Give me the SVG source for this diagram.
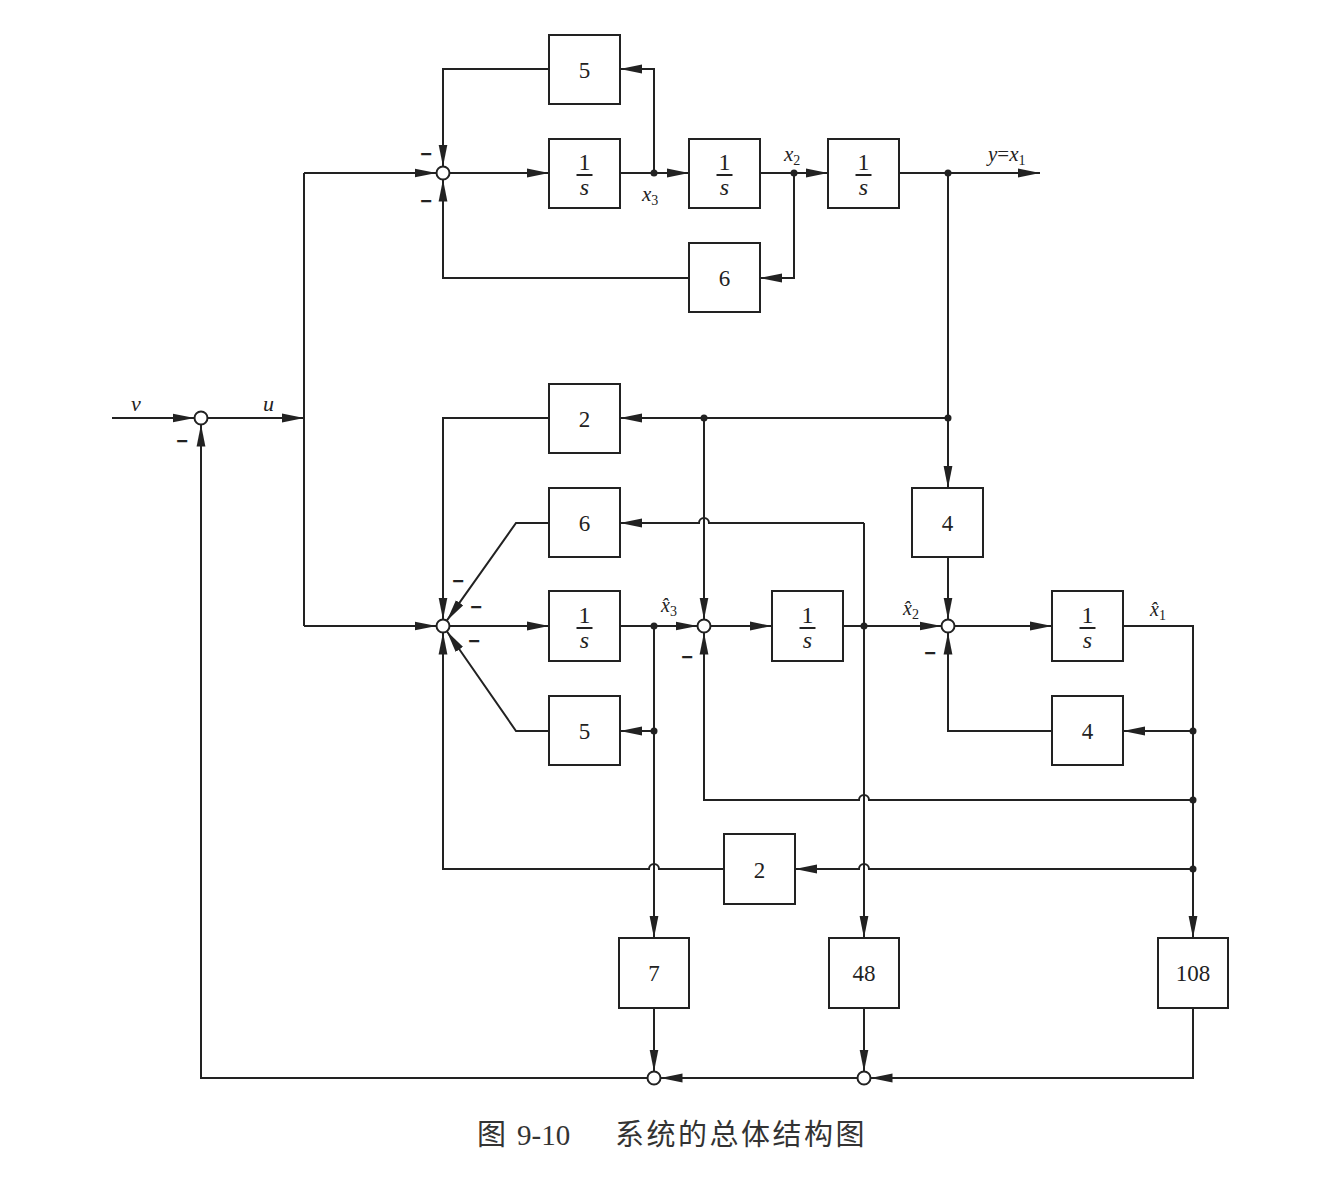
<svg xmlns="http://www.w3.org/2000/svg" width="1320" height="1180" viewBox="0 0 1320 1180">
  <style>
    .box { fill: #fff; stroke: #222; stroke-width: 2; }
    .w { fill: none; stroke: #222; stroke-width: 2; }
    .a { marker-end: url(#ah); }
    .sum { fill: #fff; stroke: #222; stroke-width: 2; }
    .dot { fill: #222; }
    .num { font-family: "Liberation Serif", serif; font-size: 23px; fill: #222; text-anchor: middle; }
    .frac { font-family: "Liberation Serif", serif; font-size: 24px; fill: #222; text-anchor: middle; }
    .it { font-family: "Liberation Serif", serif; font-style: italic; fill: #222; }
    .minus { font-family: "Liberation Sans", sans-serif; font-size: 20px; font-weight: bold; fill: #222; text-anchor: middle; }
    .cap { font-family: "Liberation Serif", "Noto Sans CJK SC", serif; font-size: 29px; fill: #333; }
  </style>
  <defs>
    <marker id="ah" markerUnits="userSpaceOnUse" markerWidth="24" markerHeight="10" refX="22" refY="5" orient="auto">
      <path d="M0,0.6 L22,5 L0,9.4 z" fill="#222"/>
    </marker>
  </defs>
  <rect width="1320" height="1180" fill="#fff"/>

  <!-- connectors -->
  <g id="connectors">
    <!-- outer loop input -->
    <path class="w a" d="M112,418 L194.5,418"/>
    <path class="w a" d="M207.5,418 L304,418"/>
    <path class="w" d="M304,173 L304,626"/>
    <path class="w a" d="M304,173 L436.5,173"/>
    <path class="w a" d="M304,626 L436.5,626"/>

    <!-- plant -->
    <path class="w a" d="M449.5,173 L549,173"/>
    <path class="w a" d="M620,173 L689,173"/>
    <path class="w a" d="M654,173 L654,69 L620,69"/>
    <path class="w a" d="M549,69 L443,69 L443,166.5"/>
    <path class="w a" d="M760,173 L828,173"/>
    <path class="w a" d="M794,173 L794,278 L760,278"/>
    <path class="w a" d="M689,278 L443,278 L443,179.5"/>
    <path class="w a" d="M899,173 L1040,173"/>

    <!-- output feed to observer -->
    <path class="w a" d="M948,173 L948,488"/>
    <path class="w a" d="M948,418 L620,418"/>
    <path class="w a" d="M704,418 L704,619.5"/>
    <path class="w a" d="M549,418 L443,418 L443,619.5"/>

    <!-- observer inner paths -->
    <path class="w a" d="M549,523 L516,523 L446.8,620.7"/>
    <path class="w a" d="M549,731 L516,731 L446.8,631.3"/>
    <path class="w a" d="M449.5,626 L549,626"/>
    <path class="w a" d="M620,626 L697.5,626"/>
    <path class="w a" d="M654,626 L654,938"/>
    <path class="w a" d="M654,731 L620,731"/>
    <path class="w a" d="M710.5,626 L772,626"/>
    <path class="w a" d="M843,626 L941.5,626"/>
    <path class="w a" d="M864,523 L709,523 A5,5 0 0 0 699,523 L620,523"/>
    <path class="w a" d="M864,523 L864,938"/>
    <path class="w a" d="M948,557 L948,619.5"/>
    <path class="w a" d="M954.5,626 L1052,626"/>
    <path class="w a" d="M1123,626 L1193,626 L1193,938"/>
    <path class="w a" d="M1193,731 L1123,731"/>
    <path class="w a" d="M1052,731 L948,731 L948,632.5"/>
    <path class="w a" d="M1193,800 L869,800 A5,5 0 0 0 859,800 L704,800 L704,632.5"/>
    <path class="w a" d="M1193,869 L869,869 A5,5 0 0 0 859,869 L795,869"/>
    <path class="w a" d="M724,869 L659,869 A5,5 0 0 0 649,869 L443,869 L443,632.5"/>

    <!-- state feedback gains to the input -->
    <path class="w a" d="M654,1008 L654,1071.5"/>
    <path class="w a" d="M864,1008 L864,1071.5"/>
    <path class="w a" d="M1193,1008 L1193,1078 L870.5,1078"/>
    <path class="w a" d="M857.5,1078 L660.5,1078"/>
    <path class="w a" d="M647.5,1078 L201,1078 L201,424.5"/>

    <!-- branch points -->
    <circle class="dot" cx="654" cy="173" r="3.5"/>
    <circle class="dot" cx="794" cy="173" r="3.5"/>
    <circle class="dot" cx="948" cy="173" r="3.5"/>
    <circle class="dot" cx="948" cy="418" r="3.5"/>
    <circle class="dot" cx="704" cy="418" r="3.5"/>
    <circle class="dot" cx="654" cy="626" r="3.5"/>
    <circle class="dot" cx="654" cy="731" r="3.5"/>
    <circle class="dot" cx="864" cy="626" r="3.5"/>
    <circle class="dot" cx="1193" cy="731" r="3.5"/>
    <circle class="dot" cx="1193" cy="800" r="3.5"/>
    <circle class="dot" cx="1193" cy="869" r="3.5"/>
  </g>

  <!-- summing junctions -->
  <g id="sum0"><circle class="sum" cx="201" cy="418" r="6.5"/><text class="minus" x="182" y="448">−</text></g>
  <g id="sum1"><circle class="sum" cx="443" cy="173" r="6.5"/><text class="minus" x="426" y="161">−</text><text class="minus" x="426" y="208">−</text></g>
  <g id="sum2"><circle class="sum" cx="443" cy="626" r="6.5"/><text class="minus" x="458" y="588">−</text><text class="minus" x="476" y="614">−</text><text class="minus" x="474" y="648">−</text></g>
  <g id="sum3"><circle class="sum" cx="704" cy="626" r="6.5"/><text class="minus" x="687" y="664">−</text></g>
  <g id="sum4"><circle class="sum" cx="948" cy="626" r="6.5"/><text class="minus" x="930" y="660">−</text></g>
  <g id="sum5"><circle class="sum" cx="654" cy="1078" r="6.5"/></g>
  <g id="sum6"><circle class="sum" cx="864" cy="1078" r="6.5"/></g>

  <!-- plant blocks -->
  <g id="k5top"><rect class="box" x="549" y="35" width="71" height="69"/><text class="num" x="584.5" y="78">5</text></g>
  <g id="int3">
    <rect class="box" x="549" y="139" width="71" height="69"/>
    <text class="frac" x="584.5" y="170">1</text><path class="w" d="M576.5,175 L592.5,175"/><text class="frac it" x="584.5" y="195">s</text>
  </g>
  <g id="int2">
    <rect class="box" x="689" y="139" width="71" height="69"/>
    <text class="frac" x="724.5" y="170">1</text><path class="w" d="M716.5,175 L732.5,175"/><text class="frac it" x="724.5" y="195">s</text>
  </g>
  <g id="int1">
    <rect class="box" x="828" y="139" width="71" height="69"/>
    <text class="frac" x="863.5" y="170">1</text><path class="w" d="M855.5,175 L871.5,175"/><text class="frac it" x="863.5" y="195">s</text>
  </g>
  <g id="k6top"><rect class="box" x="689" y="243" width="71" height="69"/><text class="num" x="724.5" y="286">6</text></g>

  <!-- observer blocks -->
  <g id="l2"><rect class="box" x="549" y="384" width="71" height="69"/><text class="num" x="584.5" y="427">2</text></g>
  <g id="l6"><rect class="box" x="549" y="488" width="71" height="69"/><text class="num" x="584.5" y="531">6</text></g>
  <g id="oint3">
    <rect class="box" x="549" y="591" width="71" height="70"/>
    <text class="frac" x="584.5" y="623">1</text><path class="w" d="M576.5,628 L592.5,628"/><text class="frac it" x="584.5" y="648">s</text>
  </g>
  <g id="l5"><rect class="box" x="549" y="696" width="71" height="69"/><text class="num" x="584.5" y="739">5</text></g>
  <g id="oint2">
    <rect class="box" x="772" y="591" width="71" height="70"/>
    <text class="frac" x="807.5" y="623">1</text><path class="w" d="M799.5,628 L815.5,628"/><text class="frac it" x="807.5" y="648">s</text>
  </g>
  <g id="l4top"><rect class="box" x="912" y="488" width="71" height="69"/><text class="num" x="947.5" y="531">4</text></g>
  <g id="oint1">
    <rect class="box" x="1052" y="591" width="71" height="70"/>
    <text class="frac" x="1087.5" y="623">1</text><path class="w" d="M1079.5,628 L1095.5,628"/><text class="frac it" x="1087.5" y="648">s</text>
  </g>
  <g id="l4low"><rect class="box" x="1052" y="696" width="71" height="69"/><text class="num" x="1087.5" y="739">4</text></g>
  <g id="l2low"><rect class="box" x="724" y="834" width="71" height="70"/><text class="num" x="759.5" y="878">2</text></g>

  <!-- feedback gains -->
  <g id="g7"><rect class="box" x="619" y="938" width="70" height="70"/><text class="num" x="654" y="981">7</text></g>
  <g id="g48"><rect class="box" x="829" y="938" width="70" height="70"/><text class="num" x="864" y="981">48</text></g>
  <g id="g108"><rect class="box" x="1158" y="938" width="70" height="70"/><text class="num" x="1193" y="981">108</text></g>

  <!-- signal labels -->
  <g id="labels">
    <text class="it" x="131" y="411" font-size="22">v</text>
    <text class="it" x="263" y="411" font-size="22">u</text>
    <text class="it" x="642" y="201" font-size="21">x<tspan font-style="normal" font-size="14" dy="4">3</tspan></text>
    <text class="it" x="784" y="161" font-size="21">x<tspan font-style="normal" font-size="14" dy="4">2</tspan></text>
    <text class="it" x="988" y="161" font-size="21">y<tspan font-style="normal">=</tspan>x<tspan font-style="normal" font-size="14" dy="4">1</tspan></text>
    <text class="it" x="661" y="612" font-size="20">x̂<tspan font-style="normal" font-size="14" dy="4">3</tspan></text>
    <text class="it" x="903" y="615" font-size="20">x̂<tspan font-style="normal" font-size="14" dy="4">2</tspan></text>
    <text class="it" x="1150" y="616" font-size="20">x̂<tspan font-style="normal" font-size="14" dy="4">1</tspan></text>
  </g>

  <!-- caption -->
  <g id="caption">
    <text class="cap" x="477" y="1145">图</text>
    <text class="cap" x="517" y="1145">9-10</text>
    <text class="cap" x="615" y="1145" letter-spacing="2.5">系统的总体结构图</text>
  </g>
</svg>
